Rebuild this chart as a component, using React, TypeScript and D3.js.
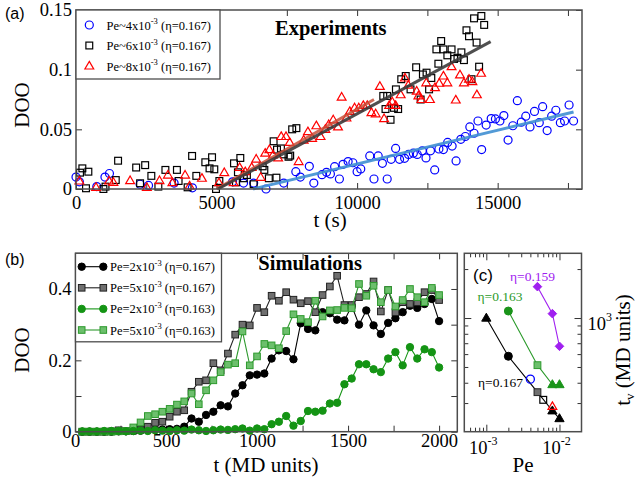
import React, { useEffect, useRef } from "react";
import * as d3 from "d3";

// ---------- panel (a): experiments, DOO vs t (s) ----------
const expBlue = [
  [0, 0.010], [120, 0.006], [740, 0.002], [1030, 0.010], [1190, 0.013], [2280, 0.004], [2580, 0.003],
  [3490, 0.005], [4140, 0.001], [5570, 0.006], [5960, 0.005], [6320, 0.005], [6760, 0], [7390, 0.005],
  [7820, 0.0145], [7980, 0.010], [8300, 0.019], [8460, 0.005], [8750, 0.012], [8910, 0.014], [9050, 0.0126],
  [9200, 0.0187], [9370, 0.0084], [9500, 0.0207], [9680, 0.023], [9850, 0.022], [10000, 0.0145],
  [10130, 0.0168], [10450, 0.0277], [10600, 0.0084], [10750, 0.0277], [10900, 0.0215], [11070, 0.0084],
  [11210, 0.0249], [11370, 0.034], [11510, 0.0249], [11690, 0.0257], [11830, 0.029], [12000, 0.030],
  [12140, 0.029], [12320, 0.032], [12450, 0.026], [12610, 0.032], [12760, 0.016], [12910, 0.0335],
  [13070, 0.033], [13220, 0.039], [13380, 0.036], [13520, 0.0235], [13690, 0.0416], [13850, 0.044],
  [14010, 0.052], [14160, 0.0467], [14300, 0.057], [14430, 0.033], [14590, 0.0536], [14770, 0.059],
  [14920, 0.0587], [15080, 0.057], [15220, 0.0615], [15370, 0.041], [15540, 0.053], [15700, 0.074],
  [15840, 0.056], [16000, 0.061], [16150, 0.052], [16310, 0.065], [16480, 0.0556], [16600, 0.069],
  [16760, 0.049], [16920, 0.061], [17070, 0.066], [17230, 0.0556], [17380, 0.057], [17540, 0.0704],
  [17700, 0.057],
];
const expBlack = [
  [143, 0.0137], [226, 0.0173], [356, 0.0006], [440, 0.0145], [975, 0], [1050, 0.002], [1415, 0.0075],
  [1497, 0.0237], [2140, 0.018], [2280, 0.0048], [2460, 0.020], [2680, 0.011], [2930, 0.002], [3180, 0.016],
  [3590, 0.016], [3650, 0.0067], [3970, 0.0014], [4130, 0.0277], [4280, 0.011], [4600, 0.0224],
  [4750, 0.0173], [4840, 0.0266], [4920, 0.0165], [4980, 0], [5100, 0.0067], [5620, 0.0215], [5690, 0.0056],
  [5760, 0.014], [5845, 0.026], [5970, 0.009], [6080, 0.0117], [6320, 0.004], [6640, 0.019], [6700, 0.016],
  [6860, 0.009], [7030, 0.040], [7130, 0.0095], [7150, 0.033], [7290, 0.034], [7390, 0.029], [7560, 0.027],
  [7620, 0.028], [7690, 0.050], [7840, 0.051], [10930, 0.078], [11070, 0.078], [11010, 0.067],
  [11190, 0.058], [11310, 0.068], [11460, 0.067], [11380, 0.0835], [11570, 0.092], [11730, 0.0947],
  [11900, 0.0835], [12100, 0.102], [12260, 0.075], [12340, 0.096], [12470, 0.0975], [12560, 0.0835],
  [12640, 0.093], [12890, 0.105], [12820, 0.117], [12990, 0.124], [13070, 0.117], [13210, 0.112],
  [13360, 0.117], [13450, 0.109], [13570, 0.110], [13710, 0.1145], [13800, 0.108], [13890, 0.133],
  [13980, 0.128], [14070, 0.092], [14160, 0.143], [14250, 0.1227], [14340, 0.1025], [14420, 0.145],
  [14520, 0.1375],
];
const expRed = [
  [120, 0.0067], [713, 0.0014], [1176, 0.0067], [1330, 0.0056], [1925, 0.007], [2520, 0.0014], [2970, 0.007],
  [3270, 0.0117], [3430, 0.0053], [3880, 0.0117], [4040, 0.0025], [4480, 0.009], [5085, 0.0053],
  [5275, 0.0137], [5606, 0.0053], [5820, 0.018], [6020, 0.0145], [6250, 0.018], [6410, 0.025],
  [6570, 0.0098], [6730, 0.030], [6880, 0.033], [7010, 0.0285], [7190, 0.026], [7300, 0.044], [7470, 0.044],
  [7600, 0.039], [7920, 0.023], [8100, 0.041], [8250, 0.048], [8400, 0.0425], [8550, 0.053], [8700, 0.044],
  [8870, 0.050], [8990, 0.054], [9150, 0.058], [9320, 0.052], [9450, 0.077], [9620, 0.0595], [9740, 0.065],
  [9910, 0.068], [10060, 0.068], [10220, 0.070], [10360, 0.070], [10510, 0.064], [10660, 0.063],
  [10810, 0.086], [10960, 0.059], [11140, 0.070], [11250, 0.073], [11370, 0.070], [11550, 0.079],
  [11700, 0.093], [11820, 0.087], [12120, 0.082], [12180, 0.078], [12290, 0.075], [12460, 0.089],
  [12590, 0.075], [12770, 0.085], [12920, 0.0886], [13070, 0.0947], [13210, 0.089], [13360, 0.1025],
  [13510, 0.0746], [13660, 0.0956], [13800, 0.089], [13980, 0.092], [14100, 0.090], [14260, 0.079],
  [14410, 0.097],
];
// linear fits (end points)
const fitBlue = [[6300, 0], [17700, 0.0645]];
const fitRed = [[5000, 0], [10600, 0.075]];
const fitBlack = [[5050, 0], [14750, 0.1235]];
const legendPeA = ["4", "6", "8"];

// ---------- panel (b): simulations, DOO vs t (MD units) ----------
const simTimes = [
  40, 80, 120, 160, 200, 240, 280, 320, 360, 400, 440, 480, 520, 560, 600, 640, 680, 720, 760, 800,
  840, 880, 920, 960, 1000, 1040, 1080, 1120, 1160, 1200, 1240, 1280, 1320, 1360, 1400, 1440, 1480, 1520,
  1560, 1600, 1640, 1680, 1720, 1760, 1800, 1840, 1880, 1920, 1960, 2000,
];
const simPe2Eta167 = [
  0, 0, 0, 0, 0, 0.001, 0.001, 0.002, 0.003, 0.004, 0.006, 0.006, 0.007, 0.008, 0.014, 0.037, 0.028, 0.047,
  0.056, 0.074, 0.071, 0.107, 0.130, 0.158, 0.160, 0.163, 0.205, 0.228, 0.226, 0.203, 0.304, 0.288, 0.284,
  0.335, 0.332, 0.314, 0.312, 0.353, 0.300, 0.340, 0.298, 0.274, 0.305, 0.318, 0.335, 0.353, 0.347, 0.358,
  0.372, 0.310,
];
const simPe5Eta167 = [
  0, 0, 0, 0, 0.001, 0.004, 0.002, 0.003, 0.006, 0.014, 0.025, 0.028, 0.042, 0.056, 0.060, 0.112, 0.140,
  0.144, 0.192, 0.172, 0.219, 0.272, 0.300, 0.298, 0.347, 0.335, 0.381, 0.367, 0.391, 0.370, 0.360, 0.366,
  0.335, 0.383, 0.407, 0.437, 0.355, 0.355, 0.377, 0.386, 0.421, 0.337, 0.397, 0.335, 0.363, 0.358, 0.363,
  0.391, 0.397, 0.369,
];
const simPe2Eta163 = [
  0.001, 0.001, 0.001, 0.002, 0.002, 0.002, 0.001, 0.002, 0.003, 0.002, 0.004, 0.003, 0.002, 0.004, 0.003,
  0.006, 0.004, 0.002, 0.004, 0.006, 0.005, 0.007, 0.009, 0.003, 0.009, 0.007, 0.021, 0.028, 0.044, 0.017,
  0.030, 0.058, 0.056, 0.059, 0.079, 0.081, 0.133, 0.149, 0.189, 0.189, 0.175, 0.167, 0.205, 0.223, 0.186,
  0.237, 0.205, 0.231, 0.223, 0.180,
];
const simPe5Eta163 = [
  0, 0, 0, 0, 0, 0.001, 0.002, 0.012, 0.026, 0.044, 0.049, 0.056, 0.064, 0.076, 0.085, 0.107, 0.077, 0.116,
  0.144, 0.167, 0.188, 0.192, 0.281, 0.186, 0.211, 0.246, 0.242, 0.234, 0.282, 0.329, 0.316, 0.307, 0.367,
  0.323, 0.340, 0.341, 0.347, 0.346, 0.414, 0.381, 0.409, 0.363, 0.397, 0.351, 0.369, 0.400, 0.377, 0.363,
  0.403, 0.383,
];
const legendB = [
  ["2", "0.167"], ["5", "0.167"], ["2", "0.163"], ["5", "0.163"],
];

// ---------- panel (c): t_v vs Pe (log-log) ----------
const peEta167 = [0.001, 0.002, 0.005, 0.008, 0.01];
const tvEta167 = [1000, 582, 350, 269, 241];
const shapeEta167 = ["triangle", "circle", "square", "triangle", "triangle"];
const peEta163 = [0.002, 0.005, 0.008, 0.01];
const tvEta163 = [1104, 513, 390, 390];
const shapeEta163 = ["circle", "square", "triangle", "triangle"];
const peEta159 = [0.005, 0.008, 0.01];
const tvEta159 = [1559, 1064, 670];
const peExp = [0.004, 0.006, 0.008];
const tvExp = [421, 314, 286];

const serif = "'Liberation Serif', 'Times New Roman', serif";
const sans = "'Liberation Sans', Arial, sans-serif";
const frameColor = "#4d4d4d";

function App() {
  const ref = useRef<SVGSVGElement>(null);

  useEffect(() => {
    drawChart();
  }, []);

  function marker(g: any, shape: string, x: number, y: number, s: number, fill: string, stroke: string, sw = 1) {
    let el;
    if (shape === "circle") {
      el = g.append("circle").attr("cx", x).attr("cy", y).attr("r", s);
    } else if (shape === "square") {
      el = g.append("rect").attr("x", x - s).attr("y", y - s).attr("width", 2 * s).attr("height", 2 * s);
    } else if (shape === "triangle") {
      el = g.append("path").attr("d", `M${x},${y - s * 1.15}L${x + s * 1.1},${y + s * 0.75}L${x - s * 1.1},${y + s * 0.75}Z`);
    } else {
      el = g.append("path").attr("d", `M${x},${y - s}L${x + s},${y}L${x},${y + s}L${x - s},${y}Z`);
    }
    el.attr("fill", fill).attr("stroke", stroke).attr("stroke-width", sw);
  }

  function styleAxis(g: any, size: number) {
    g.select(".domain").remove();
    g.attr("font-family", serif).attr("font-size", size).attr("color", "#333");
    g.selectAll("text").attr("fill", "#000");
  }

  function drawChart() {
    const svg = d3.select(ref.current);
    svg.selectAll("*").remove();

    // ================= panel (a) =================
    const A = { left: 76, right: 582, top: 10, bottom: 189 };
    const xA = d3.scaleLinear().domain([0, 18000]).range([A.left, A.right]);
    const yA = d3.scaleLinear().domain([0, 0.15]).range([A.bottom, A.top]);
    const gA = svg.append("g");
    const fmtA = (d: any) => (d % 5000 === 0 ? String(d) : "");

    gA.append("g").attr("transform", `translate(0,${A.bottom})`)
      .call(d3.axisBottom(xA).tickValues(d3.range(0, 18001, 2500)).tickFormat(fmtA).tickSizeInner(-6).tickSizeOuter(0).tickPadding(7))
      .call((g: any) => styleAxis(g, 18.5));
    gA.append("g").attr("transform", `translate(0,${A.top})`)
      .call(d3.axisTop(xA).tickValues(d3.range(0, 18001, 2500)).tickFormat(() => "").tickSizeInner(-6).tickSizeOuter(0))
      .call((g: any) => styleAxis(g, 18.5));
    gA.append("g").attr("transform", `translate(${A.left},0)`)
      .call(d3.axisLeft(yA).tickValues([0, 0.05, 0.1, 0.15]).tickFormat((d: any) => String(d)).tickSizeInner(-6).tickSizeOuter(0).tickPadding(4))
      .call((g: any) => styleAxis(g, 18.5));
    gA.append("g").attr("transform", `translate(${A.right},0)`)
      .call(d3.axisRight(yA).tickValues([0, 0.05, 0.1, 0.15]).tickFormat(() => "").tickSizeInner(-6).tickSizeOuter(0))
      .call((g: any) => styleAxis(g, 18.5));

    const mA = gA.append("g");
    expBlue.forEach((d) => marker(mA, "circle", xA(d[0]), yA(d[1]), 4, "none", "#0000ff", 1.2));
    expBlack.forEach((d) => marker(mA, "square", xA(d[0]), yA(d[1]), 3.4, "none", "#000", 1.2));
    expRed.forEach((d) => marker(mA, "triangle", xA(d[0]), yA(d[1]), 4, "none", "#ff0000", 1.2));

    const lineA = d3.line<number[]>().x((d) => xA(d[0])).y((d) => yA(d[1]));
    gA.append("path").attr("d", lineA(fitBlue as any)).attr("stroke", "#3f8fd2").attr("stroke-width", 3).attr("fill", "none").attr("opacity", 0.9);
    gA.append("path").attr("d", lineA(fitRed as any)).attr("stroke", "#c8503a").attr("stroke-width", 3).attr("fill", "none").attr("opacity", 0.85);
    gA.append("path").attr("d", lineA(fitBlack as any)).attr("stroke", "#3c3c3c").attr("stroke-width", 3).attr("fill", "none").attr("opacity", 0.9);

    gA.append("rect").attr("x", A.left).attr("y", A.top).attr("width", A.right - A.left).attr("height", A.bottom - A.top)
      .attr("fill", "none").attr("stroke", frameColor).attr("stroke-width", 1.5);

    // legend (a)
    gA.append("rect").attr("x", A.left).attr("y", A.top).attr("width", 144).attr("height", 69)
      .attr("fill", "#fff").attr("stroke", frameColor).attr("stroke-width", 1.3);
    const legShapesA = [["circle", "#0000ff"], ["square", "#000"], ["triangle", "#ff0000"]];
    legendPeA.forEach((pe, i) => {
      const yy = 25 + i * 20.5;
      marker(gA, legShapesA[i][0], 89.3, yy, legShapesA[i][0] === "square" ? 3.4 : 4, "none", legShapesA[i][1], 1.2);
      const t = gA.append("text").attr("x", 106.5).attr("y", yy + 4.5).attr("font-family", serif).attr("font-size", 12.5);
      t.append("tspan").text(`Pe~${pe}x10`);
      t.append("tspan").attr("font-size", 8.5).attr("dy", -5.5).text("-3");
      t.append("tspan").attr("dy", 5.5).text(" (\u03b7=0.167)");
    });

    gA.append("text").attr("x", 275).attr("y", 35).attr("font-family", serif).attr("font-weight", "bold").attr("font-size", 20.5).text("Experiments");
    gA.append("text").attr("x", 330).attr("y", 227).attr("text-anchor", "middle").attr("font-family", serif).attr("font-size", 21).text("t (s)");
    gA.append("text").attr("transform", "translate(29,105) rotate(-90)").attr("text-anchor", "middle").attr("font-family", serif).attr("font-size", 21).text("DOO");
    gA.append("text").attr("x", 5).attr("y", 19).attr("font-family", sans).attr("font-size", 16).text("(a)");

    // ================= panel (b) =================
    const B = { left: 75.5, right: 457.3, top: 253.3, bottom: 431.7 };
    const xB = d3.scaleLinear().domain([0, 2100]).range([75, 457.3]);
    const yB = d3.scaleLinear().domain([0, 0.5]).range([B.bottom, B.top]);
    const gB = svg.append("g");
    const fmtB = (d: any) => (d % 500 === 0 ? String(d) : "");

    gB.append("g").attr("transform", `translate(0,${B.bottom})`)
      .call(d3.axisBottom(xB).tickValues(d3.range(0, 2001, 250)).tickFormat(fmtB).tickSizeInner(-6).tickSizeOuter(0).tickPadding(2))
      .call((g: any) => styleAxis(g, 18.5));
    gB.append("g").attr("transform", `translate(0,${B.top})`)
      .call(d3.axisTop(xB).tickValues(d3.range(0, 2001, 250)).tickFormat(() => "").tickSizeInner(-6).tickSizeOuter(0))
      .call((g: any) => styleAxis(g, 18.5));
    gB.append("g").attr("transform", `translate(${B.left},0)`)
      .call(d3.axisLeft(yB).tickValues([0, 0.1, 0.2, 0.3, 0.4]).tickFormat((d: any) => ([0, 0.2, 0.4].includes(d) ? String(d) : "")).tickSizeInner(-6).tickSizeOuter(0).tickPadding(4))
      .call((g: any) => styleAxis(g, 18.5));
    gB.append("g").attr("transform", `translate(${B.right},0)`)
      .call(d3.axisRight(yB).tickValues([0, 0.1, 0.2, 0.3, 0.4]).tickFormat(() => "").tickSizeInner(-6).tickSizeOuter(0))
      .call((g: any) => styleAxis(g, 18.5));

    const seriesB = [
      { vals: simPe2Eta167, shape: "circle", fill: "#000", stroke: "#000", line: "#000", s: 3.7 },
      { vals: simPe5Eta167, shape: "square", fill: "#6f6f6f", stroke: "#222", line: "#222", s: 3.3 },
      { vals: simPe5Eta163, shape: "square", fill: "#6cbf6c", stroke: "#2e9a2e", line: "#2e9a2e", s: 3.3 },
      { vals: simPe2Eta163, shape: "circle", fill: "#149414", stroke: "#149414", line: "#149414", s: 3.7 },
    ];
    const lineB = d3.line<number>().x((_, i) => xB(simTimes[i])).y((d) => yB(d));
    seriesB.forEach((s) => {
      gB.append("path").attr("d", lineB(s.vals)).attr("fill", "none").attr("stroke", s.line).attr("stroke-width", 1.1);
      s.vals.forEach((v, i) => marker(gB, s.shape, xB(simTimes[i]), yB(v), s.s, s.fill, s.stroke, 1));
    });

    gB.append("rect").attr("x", B.left).attr("y", B.top).attr("width", B.right - B.left).attr("height", B.bottom - B.top)
      .attr("fill", "none").attr("stroke", frameColor).attr("stroke-width", 1.5);

    // legend (b)
    gB.append("rect").attr("x", B.left).attr("y", B.top).attr("width", 146).attr("height", 88.5)
      .attr("fill", "#fff").attr("stroke", frameColor).attr("stroke-width", 1.3);
    const legOrder = [0, 1, 3, 2];
    legendB.forEach((lab, i) => {
      const s = seriesB[legOrder[i]];
      const yy = 266.7 + i * 21.1;
      gB.append("line").attr("x1", 81.7).attr("x2", 103.3).attr("y1", yy).attr("y2", yy).attr("stroke", s.line).attr("stroke-width", 1.1);
      marker(gB, s.shape, 81.7, yy, s.s, s.fill, s.stroke, 1);
      marker(gB, s.shape, 103.3, yy, s.s, s.fill, s.stroke, 1);
      const t = gB.append("text").attr("x", 110).attr("y", yy + 4.5).attr("font-family", serif).attr("font-size", 12.5);
      t.append("tspan").text(`Pe=${lab[0]}x10`);
      t.append("tspan").attr("font-size", 8.5).attr("dy", -5.5).text("-3");
      t.append("tspan").attr("dy", 5.5).text(` (\u03b7=${lab[1]})`);
    });

    gB.append("text").attr("x", 258.3).attr("y", 270).attr("font-family", serif).attr("font-weight", "bold").attr("font-size", 20.5).text("Simulations");
    gB.append("text").attr("x", 266).attr("y", 472).attr("text-anchor", "middle").attr("font-family", serif).attr("font-size", 21).text("t (MD units)");
    gB.append("text").attr("transform", "translate(29,350) rotate(-90)").attr("text-anchor", "middle").attr("font-family", serif).attr("font-size", 21).text("DOO");
    gB.append("text").attr("x", 5).attr("y", 265).attr("font-family", sans).attr("font-size", 16).text("(b)");

    // ================= panel (c) =================
    const C = { left: 464.3, right: 581.5, top: 253.3, bottom: 431.7 };
    const xC = d3.scaleLog().domain([5e-4, 2e-2]).range([C.left, C.right]);
    const yC = d3.scaleLog().domain([200, 2500]).range([C.bottom, C.top]);
    const gC = svg.append("g");
    const xMinor = [6e-4, 7e-4, 8e-4, 9e-4, 2e-3, 3e-3, 4e-3, 5e-3, 6e-3, 7e-3, 8e-3, 9e-3];
    const yMinor = [300, 400, 500, 600, 700, 800, 900, 2000];
    const noLab = () => "";
    gC.append("g").attr("transform", `translate(0,${C.bottom})`).call(d3.axisBottom(xC).tickValues([1e-3, 1e-2]).tickFormat(noLab).tickSizeInner(-7).tickSizeOuter(0)).call((g: any) => styleAxis(g, 18));
    gC.append("g").attr("transform", `translate(0,${C.bottom})`).call(d3.axisBottom(xC).tickValues(xMinor).tickFormat(noLab).tickSizeInner(-4).tickSizeOuter(0)).call((g: any) => styleAxis(g, 18));
    gC.append("g").attr("transform", `translate(0,${C.top})`).call(d3.axisTop(xC).tickValues([1e-3, 1e-2]).tickFormat(noLab).tickSizeInner(-7).tickSizeOuter(0)).call((g: any) => styleAxis(g, 18));
    gC.append("g").attr("transform", `translate(0,${C.top})`).call(d3.axisTop(xC).tickValues(xMinor).tickFormat(noLab).tickSizeInner(-4).tickSizeOuter(0)).call((g: any) => styleAxis(g, 18));
    gC.append("g").attr("transform", `translate(${C.left},0)`).call(d3.axisLeft(yC).tickValues([1000]).tickFormat(noLab).tickSizeInner(-7).tickSizeOuter(0)).call((g: any) => styleAxis(g, 18));
    gC.append("g").attr("transform", `translate(${C.left},0)`).call(d3.axisLeft(yC).tickValues(yMinor).tickFormat(noLab).tickSizeInner(-4).tickSizeOuter(0)).call((g: any) => styleAxis(g, 18));
    gC.append("g").attr("transform", `translate(${C.right},0)`).call(d3.axisRight(yC).tickValues([1000]).tickFormat(noLab).tickSizeInner(-7).tickSizeOuter(0)).call((g: any) => styleAxis(g, 18));
    gC.append("g").attr("transform", `translate(${C.right},0)`).call(d3.axisRight(yC).tickValues(yMinor).tickFormat(noLab).tickSizeInner(-4).tickSizeOuter(0)).call((g: any) => styleAxis(g, 18));

    const drawSeriesC = (pe: number[], tv: number[], color: string) => {
      gC.append("path")
        .attr("d", d3.line<number>().x((d) => xC(d)).y((_, i) => yC(tv[i]))(pe))
        .attr("fill", "none").attr("stroke", color).attr("stroke-width", 1.1);
    };
    drawSeriesC(peEta167, tvEta167, "#000");
    drawSeriesC(peEta163, tvEta163, "#2a9a2a");
    drawSeriesC(peEta159, tvEta159, "#a020f0");

    peEta167.forEach((p, i) => {
      const sh = shapeEta167[i];
      if (sh === "square") marker(gC, "square", xC(p), yC(tvEta167[i]), 3.4, "#6f6f6f", "#222", 1);
      else marker(gC, sh, xC(p), yC(tvEta167[i]), sh === "circle" ? 4 : 4.2, "#000", "#000", 1);
    });
    peEta163.forEach((p, i) => {
      const sh = shapeEta163[i];
      if (sh === "square") marker(gC, "square", xC(p), yC(tvEta163[i]), 3.4, "#6cbf6c", "#2e9a2e", 1);
      else marker(gC, sh, xC(p), yC(tvEta163[i]), sh === "circle" ? 4 : 4.2, "#1a941a", "#1a941a", 1);
    });
    peEta159.forEach((p, i) => marker(gC, "diamond", xC(p), yC(tvEta159[i]), 4.3, "#a020f0", "#a020f0", 1));
    // experimental points
    marker(gC, "circle", xC(peExp[0]), yC(tvExp[0]), 4, "none", "#0000ff", 1.3);
    marker(gC, "square", xC(peExp[1]), yC(tvExp[1]), 3.4, "none", "#000", 1.2);
    marker(gC, "triangle", xC(peExp[2]), yC(tvExp[2]), 4, "none", "#ff0000", 1.2);

    gC.append("rect").attr("x", C.left).attr("y", C.top).attr("width", C.right - C.left).attr("height", C.bottom - C.top)
      .attr("fill", "none").attr("stroke", frameColor).attr("stroke-width", 1.5);

    // tick labels with superscripts
    [[1e-3, "-3"], [1e-2, "-2"]].forEach(([v, ex]: any) => {
      const t = gC.append("text").attr("x", xC(v) - 3).attr("y", 454).attr("text-anchor", "middle").attr("font-family", serif).attr("font-size", 18.5);
      t.append("tspan").text("10");
      t.append("tspan").attr("font-size", 12).attr("dy", -9).text(ex);
    });
    const t3 = gC.append("text").attr("x", 587.5).attr("y", yC(1000) + 12).attr("font-family", serif).attr("font-size", 18.5);
    t3.append("tspan").text("10");
    t3.append("tspan").attr("font-size", 12).attr("dy", -9).text("3");

    gC.append("text").attr("x", 523).attr("y", 472).attr("text-anchor", "middle").attr("font-family", serif).attr("font-size", 21).text("Pe");
    const tv = gC.append("text").attr("transform", "translate(630,350) rotate(-90)").attr("text-anchor", "middle").attr("font-family", serif).attr("font-size", 21);
    tv.append("tspan").text("t");
    tv.append("tspan").attr("font-size", 13).attr("dy", 4).text("v");
    tv.append("tspan").attr("dy", -4).text(" (MD units)");

    gC.append("text").attr("x", 473).attr("y", 281).attr("font-family", sans).attr("font-size", 17).text("(c)");
    gC.append("text").attr("x", 510).attr("y", 281).attr("font-family", serif).attr("font-size", 13.5).attr("fill", "#a020f0").text("\u03b7=0.159");
    gC.append("text").attr("x", 477.5).attr("y", 301).attr("font-family", serif).attr("font-size", 13.5).attr("fill", "#2a9a2a").text("\u03b7=0.163");
    gC.append("text").attr("x", 478).attr("y", 387).attr("font-family", serif).attr("font-size", 13.5).attr("fill", "#000").text("\u03b7=0.167");
  }

  return (
    <svg ref={ref} width={639} height={483} style={{ position: "absolute", left: 0, top: 0, background: "#fff" }} />
  );
}

export default App;
